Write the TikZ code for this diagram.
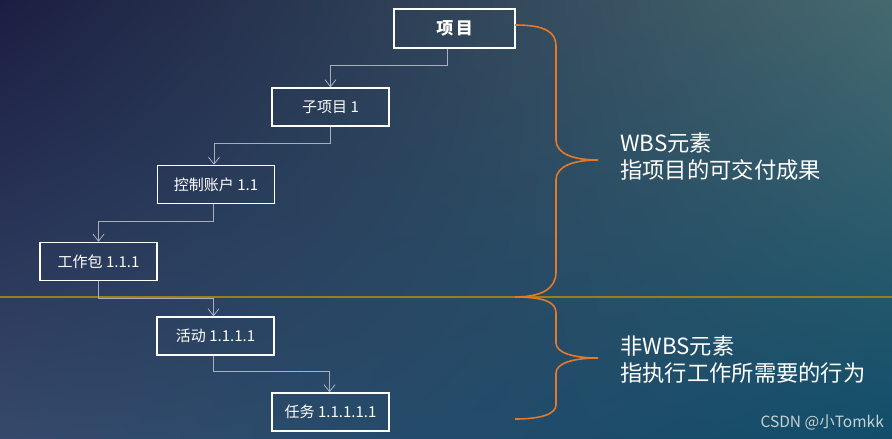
\documentclass[tikz,border=0pt]{standalone}
\usepackage{fontspec}
\setmainfont{Noto Sans CJK SC}
\usetikzlibrary{arrows.meta,shadings}

\definecolor{bgul}{HTML}{1B1E42}
\definecolor{bgur}{HTML}{46696F}
\definecolor{bgll}{HTML}{36496B}
\definecolor{bglr}{HTML}{114E6A}
\definecolor{braceorange}{HTML}{E5782A}
\definecolor{sepgold}{HTML}{9C7C1C}
\definecolor{linkgray}{HTML}{A7AFBC}

\begin{document}
\begin{tikzpicture}[x=1pt,y=-1pt,
  wbsbox/.style={draw=white,line width=1.4pt,text=white,minimum width=117pt,
    minimum height=38pt,inner sep=0pt,font=\fontsize{15}{17}\selectfont},
  link/.style={linkgray,line width=0.8pt,-{Straight Barb[length=7pt,width=11pt]}},
  brace/.style={braceorange,line width=1.6pt},
  note/.style={right,text=white,align=left,inner sep=0pt,
    font=\fontsize{22.3}{27}\selectfont}
]
  \useasboundingbox (0,0) rectangle (892,439);
  \shade[upper left=bgul,upper right=bgur,lower left=bgll,lower right=bglr]
    (0,0) rectangle (892,439);
  \draw[sepgold,line width=1.3pt] (0,297) -- (892,297);

  \node[wbsbox,minimum width=121pt,minimum height=39pt,
    font=\fontsize{17}{19}\selectfont\bfseries] (xm) at (454.5,28.5) {项\kern2.5pt目};
  \node[wbsbox] (zxm) at (330.5,107) {子项目 1};
  \node[wbsbox] (kzzh) at (216,184.5) {控制账户 1.1};
  \node[wbsbox] (gzb) at (98.5,261.5) {工作包 1.1.1};
  \node[wbsbox] (hd) at (215.5,336) {活动 1.1.1.1};
  \node[wbsbox] (rw) at (330.5,412) {任务 1.1.1.1.1};

  \draw[link] ([xshift=-7pt]xm.south) -- ++(0,17) -| (zxm.north);
  \draw[link] (zxm.south) -- ++(0,17) -| ([xshift=-2pt]kzzh.north);
  \draw[link] ([xshift=-3pt]kzzh.south) -- ++(0,17) -| (gzb.north);
  \draw[link] (gzb.south) -- ++(0,17) -| ([xshift=-2pt]hd.north);
  \draw[link] ([xshift=-2pt]hd.south) -- ++(0,16) -| ([xshift=-1pt]rw.north);

  \draw[brace] (515,25) .. controls (545,25) and (556,32) .. (556,46) -- (556,140)
    .. controls (556,154) and (574,160) .. (598,160)
    .. controls (574,160) and (556,166) .. (556,180) -- (556,272)
    .. controls (556,289) and (541,297) .. (515,297);
  \draw[brace] (515,297) .. controls (544,297) and (556,302) .. (556,313) -- (556,343)
    .. controls (556,353) and (574,358) .. (598,358)
    .. controls (574,358) and (556,363) .. (556,373) -- (556,405)
    .. controls (556,414) and (541,419) .. (515,419);

  \node[note] (wbs) at (620,157) {WBS元素\\指项目的可交付成果};
  \node[note] (nonwbs) at (620,360) {非WBS元素\\指执行工作所需要的行为};
  \node[anchor=east,text=white!70!bgur,inner sep=0pt,
    font=\fontsize{15.5}{17}\selectfont] (mark) at (884,422) {CSDN @小Tomkk};
\end{tikzpicture}
\end{document}
